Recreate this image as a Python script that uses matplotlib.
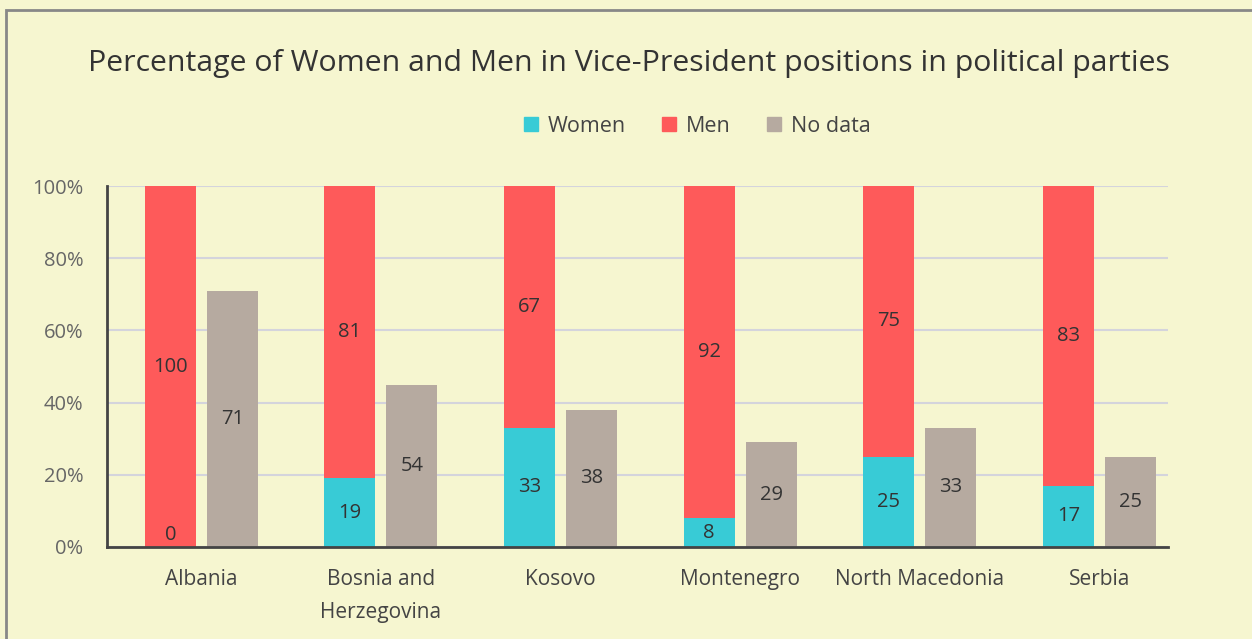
import matplotlib.pyplot as plt
from matplotlib.patches import Rectangle, Patch
import numpy as np

plt.rcParams['font.family'] = ['Open Sans', 'DejaVu Sans']

# --- Data ---
countries = ["Albania", "Bosnia and\nHerzegovina", "Kosovo", "Montenegro", "North Macedonia", "Serbia"]
women = [0, 19, 33, 8, 25, 17]
men = [100, 81, 67, 92, 75, 83]
no_data = [71, 45, 38, 29, 33, 25]          # bar heights as drawn
no_data_labels = [71, 54, 38, 29, 33, 25]   # values printed on bars

# --- Colours ---
bg = '#f6f6d0'
c_women = '#38cbd6'
c_men = '#fe5a5a'
c_nodata = '#b6aaa0'

fig = plt.figure(figsize=(12.52, 6.39), dpi=100, facecolor=bg)
ax = fig.add_axes([107 / 1252, 92 / 639, 1061 / 1252, 361 / 639])
ax.set_facecolor(bg)

x = np.arange(len(countries))
w = 0.284
off = 0.1725

ax.bar(x - off, women, w, color=c_women, zorder=3)
ax.bar(x - off, men, w, bottom=women, color=c_men, zorder=3)
ax.bar(x + off, no_data, w, color=c_nodata, zorder=3)

lbl = dict(ha='center', va='center', fontsize=14.5, color='#333333', zorder=4)
for i in range(len(countries)):
    yw = women[i] / 2 if women[i] > 0 else 3.3
    ax.text(x[i] - off, yw, str(women[i]), **lbl)
    ax.text(x[i] - off, women[i] + men[i] / 2, str(men[i]), **lbl)
    ax.text(x[i] + off, no_data[i] / 2, str(no_data_labels[i]), **lbl)

ax.set_xlim(-0.525, 5.383)
ax.set_ylim(0, 100)
ax.set_yticks([0, 20, 40, 60, 80, 100])
ax.set_yticklabels([f"{v}%" for v in [0, 20, 40, 60, 80, 100]], fontsize=14.5, color='#666666')
ax.set_xticks(x)
ax.set_xticklabels(countries, fontsize=15, color='#444444', linespacing=1.75, va='top')
ax.tick_params(axis='x', length=0, pad=16)
ax.tick_params(axis='y', length=0, pad=17)
ax.grid(axis='y', color='#d4d4dc', linewidth=1.5, zorder=0)

for s in ['top', 'right']:
    ax.spines[s].set_visible(False)
for s in ['left', 'bottom']:
    ax.spines[s].set_color('#444444')
    ax.spines[s].set_linewidth(2)
    ax.spines[s].set_zorder(5)

fig.text(0.5 + 3 / 1252, 1 - 63 / 639, "Percentage of Women and Men in Vice-President positions in political parties",
         ha='center', va='center', fontsize=21.8, color='#333333')

handles = [Patch(color=c_women, label='Women'), Patch(color=c_men, label='Men'),
           Patch(color=c_nodata, label='No data')]
fig.legend(handles=handles, loc='center', bbox_to_anchor=(697 / 1252, 1 - 126 / 639), ncol=3,
           frameon=False, fontsize=15.5, handlelength=0.65, handleheight=0.65, handletextpad=0.45,
           columnspacing=1.7, labelcolor='#444444')

# figure border (top and left edges visible)
fig.patches.append(Rectangle((6 / 1252, -0.1), 1.2, 1.1 - 10 / 639, transform=fig.transFigure,
                             fill=False, edgecolor='#888888', linewidth=2, clip_on=False))

fig.savefig('out.png', dpi=100, facecolor=bg)
